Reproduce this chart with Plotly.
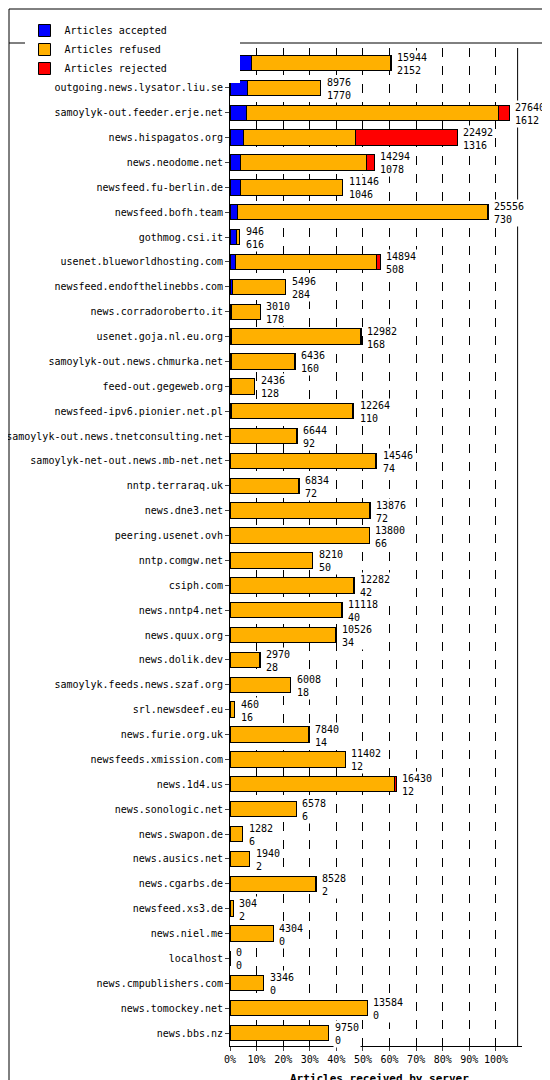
import plotly.graph_objects as go

servers = ["samoylyk-out.news.weretis.net","outgoing.news.lysator.liu.se","samoylyk-out.feeder.erje.net",
"news.hispagatos.org","news.neodome.net","newsfeed.fu-berlin.de","newsfeed.bofh.team","gothmog.csi.it",
"usenet.blueworldhosting.com","newsfeed.endofthelinebbs.com","news.corradoroberto.it","usenet.goja.nl.eu.org",
"samoylyk-out.news.chmurka.net","feed-out.gegeweb.org","newsfeed-ipv6.pionier.net.pl",
"samoylyk-out.news.tnetconsulting.net","samoylyk-net-out.news.mb-net.net","nntp.terraraq.uk","news.dne3.net",
"peering.usenet.ovh","nntp.comgw.net","csiph.com","news.nntp4.net","news.quux.org","news.dolik.dev",
"samoylyk.feeds.news.szaf.org","srl.newsdeef.eu","news.furie.org.uk","newsfeeds.xmission.com","news.1d4.us",
"news.sonologic.net","news.swapon.de","news.ausics.net","news.cgarbs.de","newsfeed.xs3.de","news.niel.me",
"localhost","news.cmpublishers.com","news.tomockey.net","news.bbs.nz"]
total = [15944,8976,27640,22492,14294,11146,25556,946,14894,5496,3010,12982,6436,2436,12264,6644,14546,6834,
13876,13800,8210,12282,11118,10526,2970,6008,460,7840,11402,16430,6578,1282,1940,8528,304,4304,0,3346,13584,9750]
accepted = [2152,1770,1612,1316,1078,1046,730,616,508,284,178,168,160,128,110,92,74,72,72,66,50,42,40,34,28,18,16,
14,12,12,6,6,2,2,2,0,0,0,0,0]
rejected = [60,40,1080,10116,810,50,50,0,430,50,0,100,60,0,100,60,120,60,100,0,80,100,100,90,30,0,0,70,0,140,
0,0,0,80,0,0,0,0,0,0]
refused = [t - a - r for t, a, r in zip(total, accepted, rejected)]
pct_ticks = [0,10,20,30,40,50,60,70,80,90,100]
full_scale = 26320

W, H = 550, 1080
ML, MR, MT, MB = 222, 36, 40, 42
PW, PH = W - ML - MR, H - MT - MB

fig = go.Figure()
for name, vals, col in [("Articles accepted", accepted, "#0000ff"),
                        ("Articles refused", refused, "#ffb000"),
                        ("Articles rejected", rejected, "#ff0000")]:
    fig.add_trace(go.Bar(y=servers, x=vals, orientation="h", name=name,
                         marker=dict(color=col, line=dict(color="black", width=1)), width=0.62))

for s, t, a in zip(servers, total, accepted):
    fig.add_annotation(x=t, y=s, text=f"{t}<br>{a}", showarrow=False, xanchor="left",
                       xshift=4, yshift=-1, align="left", bgcolor="white",
                       font=dict(size=10, color="black", family="DejaVu Sans Mono"))

fig.add_annotation(text="<b>Articles received by server</b>", xref="paper", yref="paper",
                   x=0.2, y=-32 / PH, yanchor="middle", showarrow=False,
                   font=dict(size=11, family="DejaVu Sans Mono"))

def px(xp):
    return (xp - ML) / PW

def py(yp):
    return 1 - (yp - MT) / PH

fig.update_layout(
    barmode="stack", width=W, height=H, bargap=0.3,
    paper_bgcolor="white", plot_bgcolor="white",
    margin=dict(l=ML, r=MR, t=MT, b=MB, autoexpand=False),
    font=dict(family="DejaVu Sans Mono", size=10, color="black"),
    legend=dict(orientation="h", xref="container", yref="container", x=0.03, y=1 - 8 / H,
                yanchor="top", xanchor="left", font=dict(size=10), traceorder="normal",
                entrywidth=170),
    xaxis=dict(range=[0, 28900], tickvals=[p * full_scale / 100 for p in pct_ticks],
               ticktext=[f"{p}%" for p in pct_ticks], showgrid=True, gridcolor="black",
               griddash="dash", gridwidth=1, showline=True, linecolor="black", ticks="outside",
               ticklen=4, zeroline=False),
    yaxis=dict(autorange="reversed", showline=True, linecolor="black", ticks="outside",
               ticklen=4, tickfont=dict(size=10)),
    shapes=[dict(type="rect", xref="paper", yref="paper", x0=px(1), x1=px(W - 1), y0=py(H - 1),
                 y1=py(1), line=dict(color="black", width=1)),
            dict(type="line", xref="paper", yref="paper", x0=px(1), x1=px(W - 1), y0=py(35), y1=py(35),
                 line=dict(color="black", width=1)),
            dict(type="line", xref="paper", yref="paper", x0=0.985, x1=0.985, y0=0, y1=1,
                 line=dict(color="black", width=1))],
)
fig.write_html("out.html")
